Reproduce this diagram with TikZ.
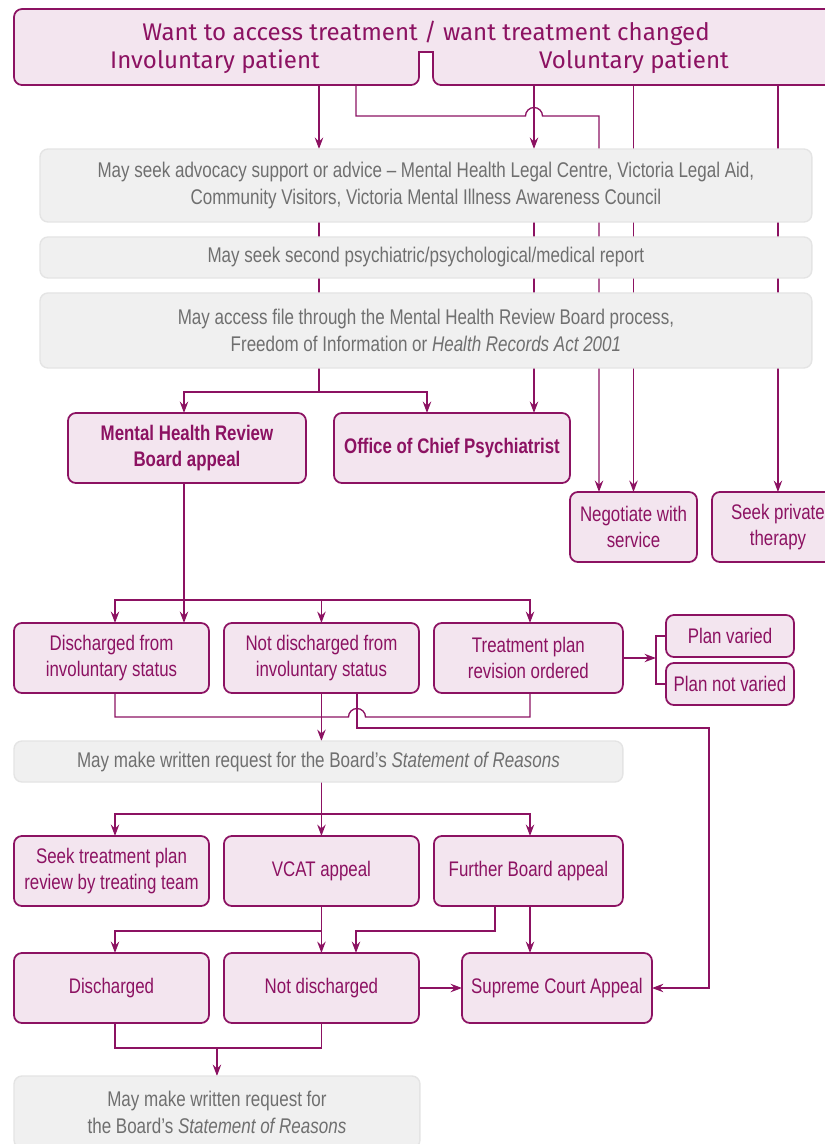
\documentclass[tikz,border=0pt]{standalone}
\usepackage{fontspec}
\setmainfont{Liberation Sans}[FakeStretch=0.8]
\newfontfamily\headfont{Fira Sans}
\usetikzlibrary{arrows.meta,positioning,calc}
\pgfdeclarelayer{bg}
\pgfsetlayers{bg,main}
\definecolor{plum}{HTML}{8C1262}
\definecolor{plumfill}{HTML}{F3E5EF}
\definecolor{greyfill}{HTML}{F0F0F0}
\definecolor{greyline}{HTML}{E4E4E4}
\definecolor{greytext}{HTML}{6F6F6F}
\tikzset{
    box/.style={draw=plum, fill=plumfill, line width=1pt, rounded corners=4.5pt,
    text=plum, align=center, minimum width=3.9cm, minimum height=1.4cm,
    inner sep=1pt, outer sep=0pt, font=\fontsize{12}{14.7}\selectfont},
    boldbox/.style={box, font=\bfseries\fontsize{12}{14.7}\selectfont},
    smallbox/.style={box, minimum width=2.56cm, minimum height=0.84cm},
    greybox/.style={draw=greyline, fill=greyfill, line width=0.8pt, rounded corners=4.5pt,
    text=greytext, align=center, minimum width=15.44cm, inner sep=1pt, outer sep=0pt,
    font=\fontsize{12.1}{15.3}\selectfont},
    link/.style={draw=plum, line width=0.75pt},
    arr/.style={link, -{Stealth[length=6.5pt, width=4.8pt, inset=2.2pt]}}
}
\begin{document}
\begin{tikzpicture}[x=0.02cm, y=-0.02cm, node distance=0.3cm,
    head/.style={text=plum, font=\headfont\fontsize{13.7}{16}\selectfont},
    hop/.style={start angle=180, end angle=0, radius=0.17cm}]
  \useasboundingbox (0,0) rectangle (825,1144);

  \draw[plum, fill=plumfill, line width=1pt]
    (22,85) -- (411,85) arc[start angle=-90, end angle=0, radius=0.16cm] -- (419,52) -- (433,52) -- (433,77)
    arc[start angle=180, end angle=270, radius=0.16cm] -- (850,85) -- (850,9) -- (22,9)
    arc[start angle=90, end angle=180, radius=0.16cm] -- (14,77)
    arc[start angle=180, end angle=270, radius=0.16cm] -- cycle;
  \coordinate (TOP) at (0,85);
  \node[head] (TITLE) at (426,33) {Want to access treatment / want treatment changed};
  \node[head] (INV) at (215,62) {Involuntary patient};
  \node[head] (VOL) at (634,62) {Voluntary patient};

  \node[greybox, anchor=north west, minimum height=1.46cm] (ADV) at (40,149)
    {May seek advocacy support or advice -- Mental Health Legal Centre, Victoria Legal Aid,\\
     Community Visitors, Victoria Mental Illness Awareness Council};
  \node[greybox, minimum height=0.82cm, below=of ADV] (REP)
    {May seek second psychiatric/psychological/medical report};
  \node[greybox, minimum height=1.5cm, below=of REP] (FILE)
    {May access file through the Mental Health Review Board process,\\
     Freedom of Information or \textit{Health Records Act 2001}};

  \node[boldbox, anchor=north west, minimum width=4.76cm] (MHRB) at (68,413) {Mental Health Review\\Board appeal};
  \node[boldbox, anchor=north west, minimum width=4.72cm] (OCP) at (334,413) {Office of Chief Psychiatrist};
  \node[box, anchor=north west, minimum width=2.54cm] (NEG) at (570,492) {Negotiate with\\service};
  \node[box, right=of NEG, minimum width=2.64cm] (PRIV) {Seek private\\therapy};

  \node[box, anchor=north west] (D1) at (14,623) {Discharged from\\involuntary status};
  \node[box, right=of D1] (N1) {Not discharged from\\involuntary status};
  \node[box, right=of N1, minimum width=3.78cm] (TP) {Treatment plan\\revision ordered};
  \node[smallbox, anchor=north west] (PV) at (666,615) {Plan varied};
  \node[smallbox, below=0.12cm of PV] (PN) {Plan not varied};

  \node[greybox, anchor=north west, minimum width=12.18cm, minimum height=0.82cm] (SR1) at (14,741)
    {May make written request for the Board’s \textit{Statement of Reasons}};

  \node[box, anchor=north west] (ST) at (14,836) {Seek treatment plan\\review by treating team};
  \node[box, right=of ST] (VC) {VCAT appeal};
  \node[box, right=of VC, minimum width=3.78cm] (FB) {Further Board appeal};

  \node[box, anchor=north west] (D2) at (14,953) {Discharged};
  \node[box, right=of D2] (N2) {Not discharged};
  \node[box, anchor=north west, minimum width=3.8cm] (SC) at (462,953) {Supreme Court Appeal};

  \node[greybox, anchor=north west, minimum width=8.12cm, minimum height=1.44cm] (SR2) at (14,1076)
    {May make written request for\\the Board’s \textit{Statement of Reasons}};

  \begin{pgfonlayer}{bg}
    \coordinate (J1) at (319,392);
    \draw[arr] (319,0 |- TOP) -- (319,0 |- ADV.north);
    \draw[link] (319,0 |- ADV.north) -- (J1);
    \draw[arr] (J1) -| (184,0 |- MHRB.north);
    \draw[arr] (J1) -| (427,0 |- OCP.north);
    \draw[arr] (534,0 |- TOP) -- (534,0 |- ADV.north);
    \draw[arr] (534,0 |- ADV.north) -- (534,0 |- OCP.north);
    \draw[arr] (356,0 |- TOP) |- (525.5,116) arc[hop] -| (599,0 |- NEG.north);
    \draw[arr] (NEG.north |- TOP) -- (NEG.north);
    \draw[arr] (PRIV.north |- TOP) -- (PRIV.north);

    \coordinate (J2) at (184,600);
    \draw[arr] (184,0 |- MHRB.south) -- (184,0 |- D1.north);
    \draw[arr] (J2) -| (115,0 |- D1.north);
    \draw[arr] (J2) -| (530,0 |- TP.north);
    \draw[arr] (N1.north |- J2) -- (N1.north);
    \coordinate (BR) at ($(TP.east)+(33,0)$);
    \draw[arr] (TP.east) -- (BR);
    \draw[link] (PV.west) -| (BR) |- (PN.west);

    \draw[link] (115,0 |- D1.south) |- (348.5,717) arc[hop] -| (530,0 |- TP.south);
    \draw[arr] (N1.south) -- (N1.south |- SR1.north);
    \draw[arr] (357,0 |- N1.south) |- (709,728) |- (SC.east);

    \coordinate (J3) at (N1.south |- 0,814);
    \draw[link] (N1.south |- SR1.south) -- (J3);
    \draw[arr] (J3) -- (VC.north);
    \draw[arr] (J3) -| (115,0 |- ST.north);
    \draw[arr] (J3) -| (530,0 |- FB.north);

    \coordinate (J4) at (VC.south |- 0,931);
    \draw[arr] (VC.south) -- (N2.north);
    \draw[arr] (J4) -| (115,0 |- D2.north);
    \draw[arr] (495,0 |- FB.south) |- (356,931) -- (356,0 |- N2.north);
    \draw[arr] (530,0 |- FB.south) -- (530,0 |- SC.north);
    \draw[arr] (N2.east) -- (SC.west);
    \draw[link] (115,0 |- D2.south) |- ($(N2.south)+(0,25)$) -- (N2.south);
    \draw[arr] (SR2.north |- 0,1049) -- (SR2.north);
  \end{pgfonlayer}
\end{tikzpicture}
\end{document}
